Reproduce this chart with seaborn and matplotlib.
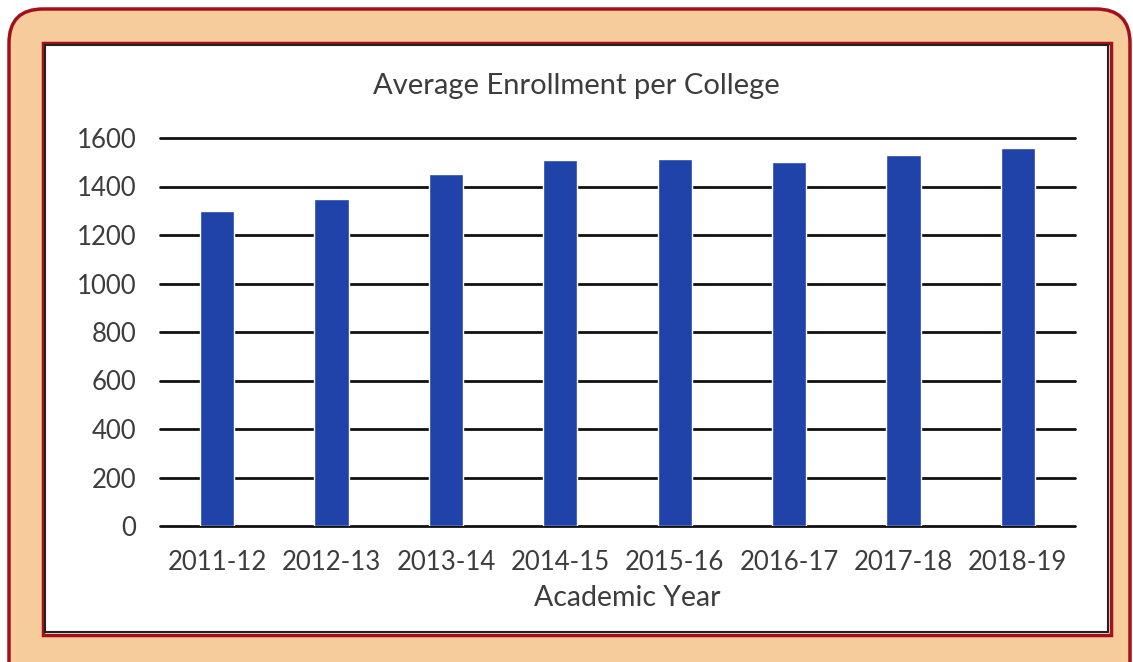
import matplotlib
matplotlib.use("Agg")
import matplotlib.pyplot as plt
from matplotlib.patches import FancyBboxPatch, Rectangle
import seaborn as sns
import pandas as pd

years = ["2011-12", "2012-13", "2013-14", "2014-15", "2015-16", "2016-17", "2017-18", "2018-19"]
enrollment = [1300, 1350, 1450, 1510, 1515, 1500, 1530, 1560]
y_ticks = [0, 200, 400, 600, 800, 1000, 1200, 1400, 1600]

sns.set_theme(style="white")
plt.rcParams["font.family"] = ["Lato", "DejaVu Sans"]

W, H = 1133, 662
fig = plt.figure(figsize=(W / 100, H / 100), dpi=100)
fig.patch.set_facecolor("white")

# Peach rounded card with dark red border
card = FancyBboxPatch((9 / W, -40 / H), (1121) / W, (H - 9 + 40) / H,
                      boxstyle="round,pad=0,rounding_size=0.03",
                      transform=fig.transFigure, facecolor="#F7CC9C",
                      edgecolor="#A3101A", linewidth=2.5, zorder=0,
                      mutation_aspect=W / H)
fig.patches.append(card)

# White inner panel with red outer and black inner edges
panel_outer = Rectangle((43 / W, (H - 635) / H), (1111 - 43) / W, (635 - 43) / H,
                        transform=fig.transFigure, facecolor="white",
                        edgecolor="#A3101A", linewidth=2.5, zorder=1)
fig.patches.append(panel_outer)
panel_inner = Rectangle((45 / W, (H - 632) / H), (1108 - 45) / W, (632 - 45) / H,
                        transform=fig.transFigure, facecolor="white",
                        edgecolor="#222222", linewidth=1.5, zorder=1)
fig.patches.append(panel_inner)

ax = fig.add_axes([160 / W, 1 - 526 / H, (1075 - 160) / W, (526 - 138) / H])
ax.set_facecolor("none")
ax.set_zorder(2)

df = pd.DataFrame({"year": years, "enrollment": enrollment})
sns.barplot(data=df, x="year", y="enrollment", color="#1F43A8", saturation=1,
            width=0.3, ax=ax, zorder=3)

ax.set_ylim(0, 1600)
ax.set_xlim(-0.5, len(years) - 0.5)
ax.set_yticks(y_ticks)
for t in y_ticks:
    ax.axhline(t, color="#111111", linewidth=2, zorder=1, clip_on=False)
for s in ax.spines.values():
    s.set_visible(False)
ax.tick_params(axis="both", length=0, labelsize=18.5, labelcolor="#3d3d3d")
ax.tick_params(axis="x", pad=17)
ax.tick_params(axis="y", pad=17)
ax.set_xlabel("Academic Year", fontsize=20.5, color="#3d3d3d")
ax.xaxis.set_label_coords((627 - 160) / 915, -0.152)
ax.set_ylabel("")
ax.grid(False)

fig.text(576 / W, 1 - 86 / H, "Average Enrollment per College", ha="center",
         va="center", fontsize=21, color="#3d3d3d", zorder=5)

fig.savefig("out.png", dpi=100)
